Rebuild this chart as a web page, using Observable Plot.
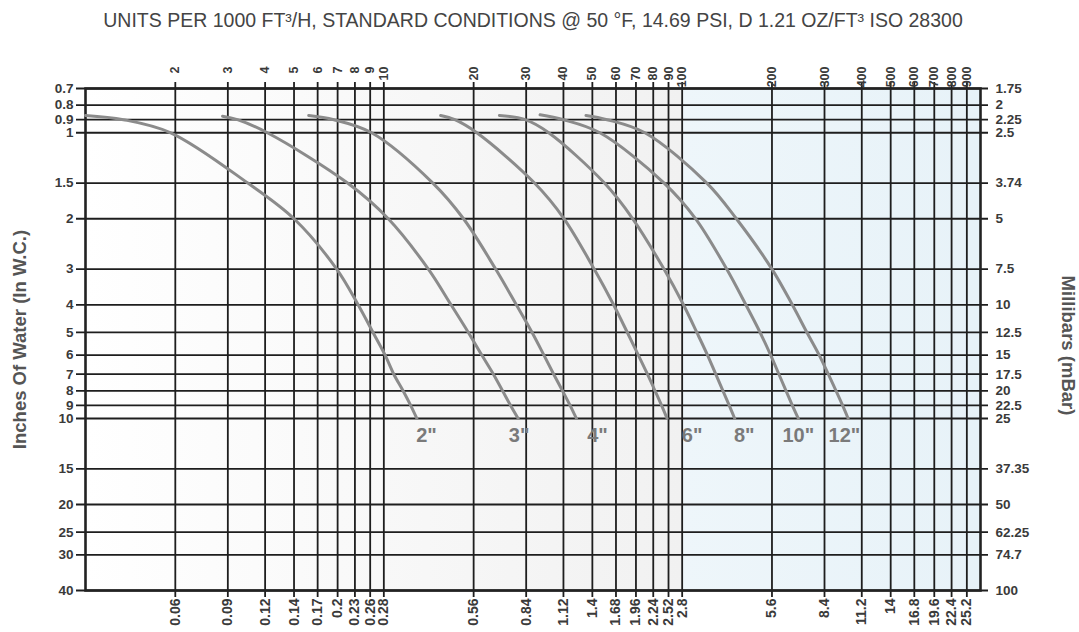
<!DOCTYPE html>
<html><head><meta charset="utf-8">
<script src="https://cdn.jsdelivr.net/npm/d3@7"></script>
<script src="https://cdn.jsdelivr.net/npm/@observablehq/plot@0.6"></script>
<style>
html,body{margin:0;padding:0;background:#fff;}
svg{font-family:"Liberation Sans",Arial,sans-serif;}
</style>
</head><body><div id="chart"></div>
<script>
const title = "UNITS PER 1000 FT³/H, STANDARD CONDITIONS @ 50 °F, 14.69 PSI, D 1.21 OZ/FT³ ISO 28300";
const yTitleLeft = "Inches Of Water (In W.C.)";
const yTitleRight = "Millibars (mBar)";

// top axis: flow (units per 1000 ft3/h)
const flowTicks = [2,3,4,5,6,7,8,9,10,20,30,40,50,60,70,80,90,100,200,300,400,500,600,700,800,900];
// bottom axis labels (m3/h)
const m3Labels = ["0.06","0.09","0.12","0.14","0.17","0.2","0.23","0.26","0.28","0.56","0.84","1.12","1.4","1.68","1.96","2.24","2.52","2.8","5.6","8.4","11.2","14","16.8","19.6","22.4","25.2"];
// left axis: inches of water
const inchTicks = [0.7,0.8,0.9,1,1.5,2,3,4,5,6,7,8,9,10,15,20,25,30,40];
// right axis: millibars
const mbarLabels = ["1.75","2","2.25","2.5","3.74","5","7.5","10","12.5","15","17.5","20","22.5","25","37.35","50","62.25","74.7","100"];

// series: [flow, inches W.C.]
const sizes = ['2"','3"','4"','6"','8"','10"','12"'];
const curve2 = [[1,0.87],[1.34,0.9],[1.93,1],[3.5,1.5],[5,2],[6.95,3],[8.2,4],[9.2,5],[10.1,6],[10.8,7],[11.6,8],[12.3,9],[12.9,10]];
const curve3 = [[2.88,0.875],[3.23,0.9],[4.07,1.0],[7.56,1.5],[10.35,2],[14.1,3],[16.8,4],[19.2,5],[21.3,6],[23.3,7],[25.0,8],[26.6,9],[28.2,10]];
const curve4 = [[5.6,0.87],[6.8,0.9],[9.1,1],[14.6,1.5],[18.5,2],[23.7,3],[27.8,4],[31.4,5],[34.4,6],[37.1,7],[39.7,8],[42.1,9],[44.2,10]];
const curve6 = [[15.5,0.87],[17.3,0.9],[20.5,1],[32,1.5],[40.2,2],[50.7,3],[58.9,4],[65.5,5],[71.3,6],[76.5,7],[81.1,8],[85.3,9],[89,10]];
const curve8 = [[24.4,0.87],[29.8,0.9],[35.7,1],[54.9,1.5],[68.3,2],[86.9,3],[101,4],[112,5],[121.6,6],[129.6,7],[137,8],[143.8,9],[150,10]];
const curve10 = [[33.4,0.865],[40,0.9],[53,1.0],[87,1.5],[111,2],[141,3],[163.5,4],[182.5,5],[198,6],[211,7],[223,8],[234,9],[245,10]];
const curve12 = [[47.6,0.87],[56,0.9],[75,1.0],[121,1.5],[152,2],[200,3],[234,4],[262,5],[288,6],[309,7],[328,8],[345,9],[360,10]];
// curve label anchors (flow, inches)
const labelFlow = [13.9,28.4,52,108,161.5,245,350];
const labelInch = [10,10,10,10,10,10,10];

const curves = [curve2,curve3,curve4,curve6,curve8,curve10,curve12];
const lineData = curves.flatMap((c,i) => c.map(([f,h]) => ({size: sizes[i], flow: f, inch: h})));
const labelData = sizes.map((s,i) => ({size: s, flow: labelFlow[i], inch: labelInch[i]}));

const tickColor = "#1e1e1e";
const labelColor = "#3a3a3a";

const chart = Plot.plot({
  width: 1079,
  height: 632,
  marginLeft: 85,
  marginRight: 99,
  marginTop: 88,
  marginBottom: 42,
  x: {type: "log", domain: [1, 1000], axis: null},
  y: {type: "log", domain: [0.7, 40], reverse: true, axis: null},
  style: {fontFamily: '"Liberation Sans", Arial, sans-serif', background: "#fff"},
  marks: [
    Plot.rect([{a: 1, b: 100}], {x1: "a", x2: "b", fill: "url(#bgLeft)"}),
    Plot.rect([{a: 100, b: 1000}], {x1: "a", x2: "b", fill: "url(#bgRight)"}),
    Plot.ruleX(flowTicks, {x: d => d, stroke: tickColor, strokeWidth: 1.8, insetTop: -6, insetBottom: -7}),
    Plot.ruleY(inchTicks, {y: d => d, stroke: tickColor, strokeWidth: 1.8, insetLeft: -9, insetRight: -8}),
    Plot.frame({stroke: "#222", strokeWidth: 2.6}),
    Plot.line(lineData, {x: "flow", y: "inch", z: "size", curve: "catmull-rom", stroke: "#8b8b8b", strokeWidth: 3}),
    Plot.text(labelData, {x: "flow", y: "inch", text: "size", lineAnchor: "top", dy: 9, fontSize: 20, fontWeight: "bold", fill: "#7a7a7a"}),
    // top labels
    Plot.text(flowTicks, {x: d => d, frameAnchor: "top", dy: -22, rotate: -90, textAnchor: "end", lineAnchor: "middle", text: d => String(d), fontSize: 12.5, fontWeight: "bold", fill: labelColor}),
    // bottom labels
    Plot.text(flowTicks, {x: d => d, frameAnchor: "bottom", dy: 8, rotate: -90, textAnchor: "end", lineAnchor: "middle", text: (d, i) => m3Labels[i], fontSize: 14, fontWeight: "bold", fill: labelColor}),
    // left labels
    Plot.text(inchTicks, {y: d => d, frameAnchor: "left", dx: -12, textAnchor: "end", lineAnchor: "middle", text: d => String(d), fontSize: 13.5, fontWeight: "bold", fill: labelColor}),
    // right labels
    Plot.text(inchTicks, {y: d => d, frameAnchor: "right", dx: 15, textAnchor: "start", lineAnchor: "middle", text: (d, i) => mbarLabels[i], fontSize: 13.5, fontWeight: "bold", fill: labelColor}),
    // titles
    Plot.text([title], {frameAnchor: "top", dy: -68, textAnchor: "middle", lineAnchor: "middle", text: d => d, fontSize: 19.5, fill: "#444"}),
    Plot.text([yTitleLeft], {frameAnchor: "left", dx: -65, rotate: -90, textAnchor: "middle", lineAnchor: "middle", text: d => d, fontSize: 18.5, fontWeight: "bold", fill: "#555"}),
    Plot.text([yTitleRight], {frameAnchor: "right", dx: 87, dy: 6, rotate: 90, textAnchor: "middle", lineAnchor: "middle", text: d => d, fontSize: 18.5, fontWeight: "bold", fill: "#555"})
  ]
});
chart.insertAdjacentHTML("afterbegin",
  '<defs><linearGradient id="bgLeft" x1="0" x2="1" y1="0" y2="0"><stop offset="0" stop-color="#ffffff"/><stop offset="1" stop-color="#f1f1f1"/></linearGradient>' +
  '<linearGradient id="bgRight" x1="0" x2="1" y1="0" y2="0"><stop offset="0" stop-color="#eef6fa"/><stop offset="1" stop-color="#e7f2f8"/></linearGradient></defs>');
document.getElementById("chart").appendChild(chart);
</script>
</body></html>
